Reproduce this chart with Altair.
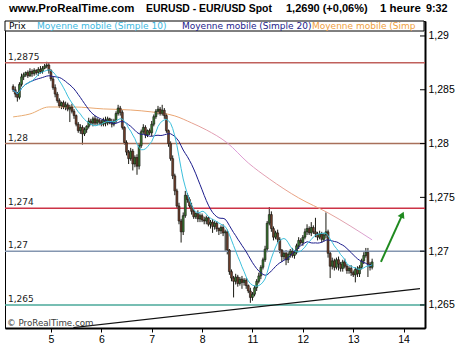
import altair as alt
import pandas as pd

# ---------------- data ----------------
start_index = -18          # first hourly bar (hours from day "5" 00:00)
first_open = 1.2853
closes = [
    1.2850, 1.2846, 1.2843, 1.2855, 1.2862, 1.2864, 1.2866, 1.2863, 1.2867, 1.2865,
    1.2868, 1.2866, 1.2869, 1.2867, 1.2870, 1.2872, 1.2873, 1.2868, 1.2860, 1.2852,
    1.2846, 1.2840, 1.2835, 1.2838, 1.2834, 1.2836, 1.2832, 1.2834, 1.2830, 1.2826,
    1.2818, 1.2812, 1.2815, 1.2809, 1.2813, 1.2816, 1.2821, 1.2819, 1.2823, 1.2819,
    1.2822, 1.2820, 1.2818, 1.2822, 1.2819, 1.2823, 1.2820, 1.2818, 1.2821, 1.2828,
    1.2833, 1.2829, 1.2815, 1.2801, 1.2792, 1.2786, 1.2793, 1.2781, 1.2787, 1.2779,
    1.2798, 1.2811, 1.2815, 1.2808, 1.2812, 1.2810, 1.2818, 1.2825, 1.2830, 1.2832,
    1.2828, 1.2831, 1.2826, 1.2812, 1.2800, 1.2786, 1.2770, 1.2756, 1.2742, 1.2728,
    1.2718, 1.2733, 1.2752, 1.2748, 1.2742, 1.2737, 1.2732, 1.2735, 1.2730, 1.2733,
    1.2729, 1.2728, 1.2731, 1.2725, 1.2727, 1.2723, 1.2726, 1.2721, 1.2719, 1.2722,
    1.2717, 1.2718, 1.2701, 1.2681, 1.2675, 1.2672, 1.2676, 1.2670, 1.2674, 1.2671,
    1.2673, 1.2668, 1.2663, 1.2657, 1.2660, 1.2666, 1.2672, 1.2677, 1.2685, 1.2692,
    1.2702, 1.2726, 1.2734, 1.2721, 1.2713, 1.2717, 1.2711, 1.2701, 1.2695, 1.2698,
    1.2692, 1.2697, 1.2700, 1.2696, 1.2699, 1.2705, 1.2710, 1.2708, 1.2713, 1.2718,
    1.2721, 1.2717, 1.2722, 1.2718, 1.2716, 1.2713, 1.2716, 1.2711, 1.2715, 1.2718,
    1.2698, 1.2686, 1.2691, 1.2685, 1.2692, 1.2688, 1.2684, 1.2690, 1.2686, 1.2682,
    1.2684, 1.2680, 1.2678, 1.2683, 1.2679, 1.2685, 1.2691, 1.2696, 1.2699, 1.2688,
    1.2685, 1.2690,
]
# wick lengths in pips above max(open, close) and below min(open, close)
up_wick = [
    2, 3, 2, 2, 3, 2, 1, 2, 3, 2,
    2, 1, 2, 3, 2, 2, 3, 2, 1, 2,
    3, 2, 2, 1, 2, 3, 2, 2, 3, 2,
    1, 2, 3, 2, 2, 1, 3, 2, 2, 3,
    2, 1, 2, 2, 3, 2, 1, 3, 2, 2,
    3, 2, 2, 1, 2, 2, 3, 2, 2, 3,
    2, 2, 3, 2, 1, 2, 3, 2, 2, 3,
    2, 5, 2, 2, 1, 2, 3, 2, 2, 3,
    2, 3, 4, 2, 2, 3, 2, 1, 3, 2,
    2, 3, 2, 1, 2, 3, 2, 2, 1, 2,
    3, 2, 2, 1, 2, 2, 3, 2, 2, 3,
    2, 2, 1, 3, 2, 2, 2, 3, 2, 2,
    3, 2, 7, 3, 2, 2, 3, 2, 1, 2,
    3, 2, 2, 3, 2, 2, 3, 2, 2, 3,
    4, 2, 5, 2, 13, 2, 3, 2, 2, 18,
    2, 2, 3, 2, 2, 3, 2, 2, 3, 2,
    2, 3, 2, 2, 3, 2, 2, 3, 4, 4,
    2, 3,
]
down_wick = [
    2, 3, 4, 2, 2, 3, 2, 2, 1, 3,
    2, 2, 3, 2, 2, 1, 2, 3, 2, 2,
    3, 2, 2, 3, 2, 3, 2, 12, 2, 3,
    2, 2, 3, 10, 2, 3, 2, 2, 3, 2,
    2, 3, 2, 2, 3, 2, 2, 3, 2, 2,
    2, 3, 2, 2, 3, 5, 2, 6, 3, 8,
    3, 2, 2, 3, 2, 2, 3, 2, 2, 3,
    2, 2, 3, 2, 3, 2, 3, 4, 2, 3,
    10, 3, 2, 3, 2, 3, 2, 2, 3, 3,
    2, 3, 3, 2, 4, 6, 3, 3, 4, 3,
    3, 17, 4, 3, 3, 15, 3, 3, 2, 6,
    3, 3, 2, 5, 3, 2, 3, 2, 3, 2,
    2, 3, 2, 3, 3, 2, 3, 3, 5, 3,
    5, 3, 3, 2, 3, 2, 3, 2, 3, 2,
    3, 2, 3, 2, 3, 3, 2, 3, 2, 3,
    4, 11, 3, 3, 2, 6, 3, 3, 2, 3,
    3, 3, 2, 7, 3, 3, 2, 3, 2, 12,
    3, 2,
]

# long moving average
long_ma_i = [-18, -10, -1, 11, 25, 38, 48, 59, 67, 74, 84, 94, 104, 118, 132, 153]
long_ma_p = [1.28248, 1.28275, 1.28340, 1.28340, 1.28322, 1.28312, 1.28294, 1.28257,
             1.28192, 1.28127, 1.28006, 1.27820, 1.27672, 1.27495, 1.27356, 1.27105]

day_ticks = [0, 24, 48, 72, 96, 120, 144, 168]
day_labels = ["5", "6", "7", "8", "11", "12", "13", "14"]
price_ticks = [1.265, 1.27, 1.275, 1.28, 1.285, 1.29]

level_values = [1.2875, 1.28, 1.274, 1.27, 1.265]
level_labels = ["1,2875", "1,28", "1,274", "1,27", "1,265"]
level_colors = ["#c0605c", "#a8705a", "#cc3346", "#8496b0", "#4aa89a"]

trend_i = [10.7, 175.8]
trend_p = [1.26290, 1.26652]

arrow_i = [157.2, 167.4]
arrow_p = [1.2690, 1.2734]

legend_names = ["Prix", "Moyenne mobile (Simple 10)", "Moyenne mobile (Simple 20)", "Moyenne mobile (Simp"]
legend_colors = ["#000000", "#3cb8e0", "#1c1c8c", "#f0a040"]
title_parts = ["www.ProRealTime.com", "EURUSD - EUR/USD Spot", "1,2690 (+0,06%)", "1 heure", "9:32"]

# ---------------- tables ----------------
pip = 0.0001
opens = [first_open] + closes[:-1]
rows = []
for k, (o, c, uw, dw) in enumerate(zip(opens, closes, up_wick, down_wick)):
    rows.append({
        "i": start_index + k, "open": o, "close": c,
        "high": max(o, c) + uw * pip, "low": min(o, c) - dw * pip,
    })
df = pd.DataFrame(rows)
lma = pd.DataFrame({"i": long_ma_i, "p": long_ma_p})
lev = pd.DataFrame({"p": level_values, "label": level_labels})
trend = pd.DataFrame({"i": trend_i, "p": trend_p})
arrow = pd.DataFrame({"i": arrow_i, "p": arrow_p, "tip": [False, True]})
ticks_df = pd.DataFrame({"p": price_ticks})
one = pd.DataFrame({"k": [0]})

W, H = 420, 307
xs = alt.Scale(domain=[-19.5, 175.8], nice=False, zero=False)
ys = alt.Scale(domain=[1.26286, 1.29139], nice=False, zero=False)

x_label_expr = " : ".join(f"datum.value == {t} ? '{l}'" for t, l in zip(day_ticks, day_labels)) + " : ''"
x_axis = alt.Axis(values=day_ticks, labelExpr=x_label_expr, title=None, grid=False,
                  tickSize=4, tickColor="black", domainColor="black", domainWidth=2,
                  labelFontSize=10.5, labelPadding=2, labelColor="black",
                  labelFont="Liberation Sans")
y_axis = alt.Axis(values=price_ticks, orient="right", title=None, grid=False, ticks=False,
                  labelExpr="replace(format(datum.value, '.4~f'), '.', ',')",
                  domainColor="black", domainWidth=2, labelFontSize=10.5,
                  labelPadding=3, labelColor="black", labelFont="Liberation Sans")


def X(f="i"):
    return alt.X(f"{f}:Q", scale=xs, axis=x_axis, title=None)


def Y(f):
    return alt.Y(f"{f}:Q", scale=ys, axis=y_axis, title=None)


base = alt.Chart(df)

wicks = base.mark_rule(color="#1a1a12", strokeWidth=1).encode(
    x=X(), y=Y("low"), y2="high:Q",
)
bodies = base.mark_bar(width=1.9, stroke="#141410", strokeWidth=0.6).encode(
    x=X(), y=Y("open"), y2="close:Q",
    color=alt.condition("datum.close >= datum.open", alt.value("#3a7a30"), alt.value("#74402c")),
)

ma = base.transform_window(
    sma10="mean(close)", frame=[-9, 0], sort=[alt.SortField("i")]
).transform_window(
    sma20="mean(close)", frame=[-19, 0], sort=[alt.SortField("i")]
)
sma10 = ma.mark_line(color="#3cc0dc", strokeWidth=1).encode(x=X(), y=Y("sma10"))
sma20 = ma.mark_line(color="#1c1c8c", strokeWidth=1).encode(x=X(), y=Y("sma20"))

long_line = alt.Chart(lma).mark_line(
    interpolate="monotone", strokeWidth=1,
    color=alt.Gradient(gradient="linear", x1=0, x2=1, y1=0, y2=0, stops=[
        alt.GradientStop(color="#e8ac72", offset=0),
        alt.GradientStop(color="#eaa470", offset=0.45),
        alt.GradientStop(color="#dc9cdc", offset=0.62),
        alt.GradientStop(color="#eca470", offset=0.82),
        alt.GradientStop(color="#d8a0dc", offset=1),
    ]),
).encode(x=X(), y=Y("p"))

levels = alt.Chart(lev).mark_rule(strokeWidth=1.5).encode(
    y=Y("p"),
    color=alt.Color("label:N", scale=alt.Scale(domain=level_labels, range=level_colors), legend=None),
)
level_text = alt.Chart(lev).mark_text(
    align="left", baseline="alphabetic", dy=-3, font="DejaVu Sans", fontSize=9, color="#222222"
).encode(x=alt.value(3), y=Y("p"), text="label:N")

trend_line = alt.Chart(trend).mark_line(color="#111111", strokeWidth=1.2, clip=True).encode(x=X(), y=Y("p"))

arrow_line = alt.Chart(arrow).mark_line(color="#1f8a1f", strokeWidth=2).encode(x=X(), y=Y("p"))
arrow_head = alt.Chart(arrow).transform_filter("datum.tip").mark_point(
    shape="triangle-up", angle=25, filled=True, size=55, color="#1f8a1f", opacity=1
).encode(x=X(), y=Y("p"))

rticks = alt.Chart(ticks_df).mark_rule(color="black", strokeWidth=1).encode(
    x=alt.value(W - 5), x2=alt.value(W), y=Y("p"))

legend_box = alt.Chart(one).mark_rect(
    fill="white", stroke="black", strokeWidth=1
).encode(x=alt.value(0), x2=alt.value(W - 1), y=alt.value(0), y2=alt.value(10))

leg_x = [4, 32, 177, 307]
legend_marks = []
for name, col, lx in zip(legend_names, legend_colors, leg_x):
    legend_marks.append(
        alt.Chart(one).mark_text(
            text=name, align="left", baseline="alphabetic", font="DejaVu Sans",
            fontSize=9, color=col
        ).encode(x=alt.value(lx), y=alt.value(8))
    )

title_x = [4, 141, 281, 375, 421]
title_sizes = [11.4, 10.4, 11, 11.5, 10.8]
title_marks = []
for t, tx, ts in zip(title_parts, title_x, title_sizes):
    title_marks.append(
        alt.Chart(one).mark_text(
            text=t, align="left", baseline="alphabetic", font="Liberation Sans",
            fontWeight="bold", fontSize=ts, color="black"
        ).encode(x=alt.value(tx), y=alt.value(-9))
    )

copyright = alt.Chart(one).mark_text(
    text="\u00a9 ProRealTime.com", align="left", baseline="alphabetic",
    font="DejaVu Sans", fontSize=8.7, color="#3a3a3a"
).encode(x=alt.value(2), y=alt.value(305))

chart = alt.layer(
    wicks, levels, long_line, trend_line, bodies, sma20, sma10,
    level_text, arrow_line, arrow_head, rticks, legend_box, *legend_marks,
    *title_marks, copyright,
).properties(
    width=W, height=H,
    autosize=alt.AutoSizeParams(type="none"),
    padding={"left": 5, "top": 21, "right": 44, "bottom": 19},
    background="white",
).configure_view(
    stroke="black", strokeWidth=1
)

chart.save("out.html", embed_options={"renderer": "svg", "actions": False})
